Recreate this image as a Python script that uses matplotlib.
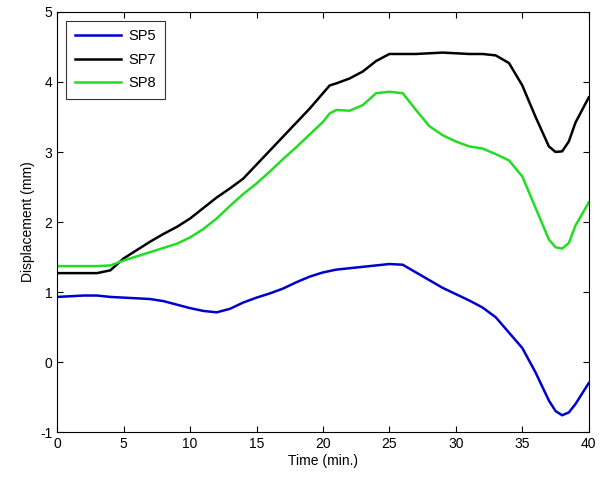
import numpy as np
import matplotlib
matplotlib.use("Agg")
import matplotlib.pyplot as plt

plt.rcParams['font.family'] = ['Liberation Sans', 'DejaVu Sans']
plt.rcParams['axes.unicode_minus'] = False

# Time (min.) sample points, shared by all three series
t = [0, 1, 2, 3, 4, 5, 6, 7, 8, 9, 10, 11, 12, 13, 14, 15, 16, 17, 18, 19, 20, 20.5, 21, 22,
     23, 24, 25, 26, 27, 28, 29, 30, 31, 32, 33, 34, 35, 36, 37, 37.5, 38, 38.5, 39, 40]

# Displacement (mm)
sp5 = [0.93, 0.94, 0.95, 0.95, 0.93, 0.92, 0.91, 0.90, 0.87, 0.82, 0.77, 0.73, 0.71, 0.76, 0.85,
       0.92, 0.98, 1.05, 1.14, 1.22, 1.28, 1.30, 1.32, 1.34, 1.36, 1.38, 1.40, 1.39, 1.28, 1.17,
       1.06, 0.97, 0.88, 0.78, 0.64, 0.42, 0.20, -0.15, -0.55, -0.70, -0.76, -0.72, -0.60, -0.30]

sp7 = [1.27, 1.27, 1.27, 1.27, 1.31, 1.48, 1.60, 1.72, 1.83, 1.93, 2.05, 2.20, 2.35, 2.48, 2.62,
       2.82, 3.02, 3.22, 3.42, 3.62, 3.84, 3.95, 3.98, 4.05, 4.15, 4.30, 4.40, 4.40, 4.40, 4.41,
       4.42, 4.41, 4.40, 4.40, 4.38, 4.27, 3.95, 3.50, 3.08, 3.00, 3.01, 3.15, 3.42, 3.78]

sp8 = [1.37, 1.37, 1.37, 1.37, 1.38, 1.45, 1.51, 1.57, 1.63, 1.69, 1.78, 1.90, 2.05, 2.23, 2.40,
       2.55, 2.72, 2.90, 3.07, 3.25, 3.43, 3.55, 3.60, 3.59, 3.67, 3.84, 3.86, 3.84, 3.60, 3.37,
       3.24, 3.15, 3.08, 3.05, 2.97, 2.88, 2.65, 2.20, 1.75, 1.64, 1.62, 1.70, 1.95, 2.28]

fig = plt.figure(figsize=(6.02, 4.79), dpi=100)
ax = fig.add_axes([0.095, 0.098, 0.883, 0.877])

ax.plot(t, sp5, color='#0000cc', lw=1.8, label='SP5')
ax.plot(t, sp7, color='black', lw=1.8, label='SP7')
ax.plot(t, sp8, color='#22dd22', lw=1.8, label='SP8')

ax.set_xlim(0, 40)
ax.set_ylim(-1, 5)
ax.set_xticks(np.arange(0, 41, 5))
ax.set_yticks(np.arange(-1, 6, 1))
ax.tick_params(direction='in', top=True, right=True, labelsize=10, length=4)
ax.set_xlabel('Time (min.)', fontsize=10, labelpad=2)
ax.set_ylabel('Displacement (mm)', fontsize=10)

leg = ax.legend(loc='upper left', fontsize=10.5, fancybox=False, edgecolor='black',
                handlelength=3.2, labelspacing=0.65, borderpad=0.6,
                borderaxespad=0.6, handletextpad=0.5)
leg.get_frame().set_linewidth(0.8)

fig.savefig('out.png', dpi=100)
